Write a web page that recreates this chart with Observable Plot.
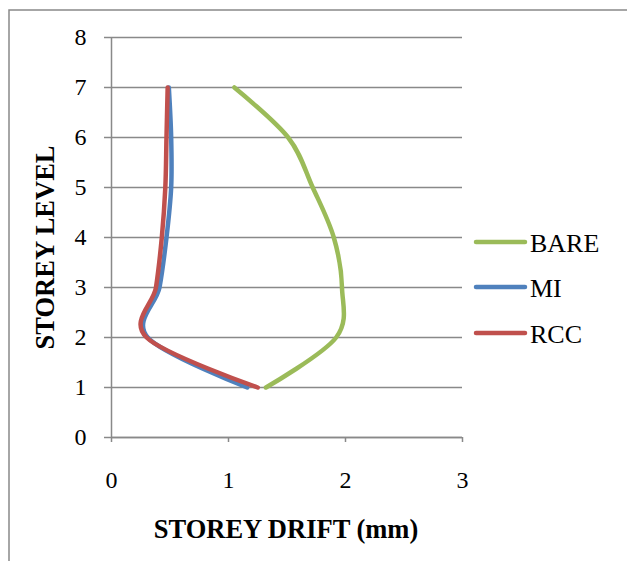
<!DOCTYPE html>
<html>
<head>
<meta charset="utf-8">
<script src="https://cdn.jsdelivr.net/npm/d3@7"></script>
<script src="https://cdn.jsdelivr.net/npm/@observablehq/plot@0.6"></script>
<style>
  html, body { margin: 0; padding: 0; background: #fff; }
  #chart { position: relative; width: 627px; height: 561px; }
</style>
</head>
<body>
<div id="chart"></div>
<script>
const levels = [1, 2, 3, 4, 5, 6, 7];
const bare = [1.32, 1.92, 1.97, 1.90, 1.72, 1.51, 1.05];
const mi   = [1.16, 0.31, 0.41, 0.47, 0.51, 0.51, 0.49];
const rcc  = [1.25, 0.30, 0.38, 0.43, 0.46, 0.47, 0.48];
const seriesNames = ["BARE", "MI", "RCC"];
const seriesColors = ["#9BBB59", "#4F81BD", "#C0504D"];
const xTicks = [0, 1, 2, 3];
const yTicks = [0, 1, 2, 3, 4, 5, 6, 7, 8];
const xTitle = "STOREY DRIFT (mm)";
const yTitle = "STOREY LEVEL";

const seriesValues = [bare, mi, rcc];
const rows = [];
seriesNames.forEach((name, s) => {
  levels.forEach((lv, i) => rows.push({series: name, level: lv, drift: seriesValues[s][i]}));
});

const font = "Liberation Serif";
const gray = "#898989";

const plot = Plot.plot({
  width: 627,
  height: 561,
  marginLeft: 111,
  marginRight: 165,
  marginTop: 37,
  marginBottom: 124,
  style: {fontFamily: font, fontSize: "24px", color: "#000", background: "transparent", overflow: "visible"},
  x: {domain: [0, 3]},
  y: {domain: [0, 8]},
  color: {domain: seriesNames, range: seriesColors},
  marks: [
    Plot.gridY(yTicks, {stroke: gray, strokeOpacity: 1, strokeWidth: 1.5}),
    Plot.axisY(yTicks, {tickSize: 7, stroke: gray, strokeWidth: 1.5, label: null, tickFormat: () => ""}),
    Plot.axisX(xTicks, {tickSize: 5, stroke: gray, strokeWidth: 1.5, label: null, tickFormat: () => ""}),
    Plot.ruleX([0], {y1: 0, y2: 8, stroke: gray, strokeWidth: 1.5}),
    Plot.ruleY([0], {stroke: gray, strokeWidth: 1.5}),
    Plot.text(yTicks, {y: d => d, text: d => String(d), frameAnchor: "left", textAnchor: "end", lineAnchor: "middle", dx: -25, fontSize: 24, fontFamily: font, fill: "#000"}),
    Plot.text(xTicks, {x: d => d, text: d => String(d), frameAnchor: "bottom", textAnchor: "middle", lineAnchor: "top", dy: 33, fontSize: 24, fontFamily: font, fill: "#000"}),
    Plot.line(rows, {x: "drift", y: "level", z: "series", stroke: "series", strokeWidth: 4.5, curve: "cardinal", tension: 0, strokeLinecap: "round", strokeLinejoin: "round"}),
    Plot.text([xTitle], {frameAnchor: "bottom", textAnchor: "middle", lineAnchor: "bottom", dy: 100, dx: -1, fontWeight: "bold", fontSize: 26.5, fontFamily: font, fill: "#000"}),
    Plot.text([yTitle], {frameAnchor: "left", textAnchor: "middle", lineAnchor: "bottom", rotate: -90, dx: -58, dy: 10, fontWeight: "bold", fontSize: 26.5, fontFamily: font, fill: "#000"})
  ]
});

document.getElementById("chart").appendChild(plot);

const svg = d3.select(plot);
// chart border (left and top edges visible)
svg.append("path")
  .attr("d", "M9,561V10H627")
  .attr("fill", "none")
  .attr("stroke", gray)
  .attr("stroke-width", 1.5);

// legend
const legendYs = [242, 287, 333];
const lg = svg.append("g").attr("font-family", font).attr("font-size", 26).attr("text-anchor", "start");
seriesNames.forEach((name, i) => {
  const y = legendYs[i];
  lg.append("line")
    .attr("x1", 476).attr("x2", 525).attr("y1", y).attr("y2", y)
    .attr("stroke", seriesColors[i]).attr("stroke-width", 4.5).attr("stroke-linecap", "round");
  lg.append("text")
    .attr("x", 530).attr("y", y + 10)
    .attr("fill", "#000")
    .attr("text-anchor", "start")
    .text(name);
});
</script>
</body>
</html>
